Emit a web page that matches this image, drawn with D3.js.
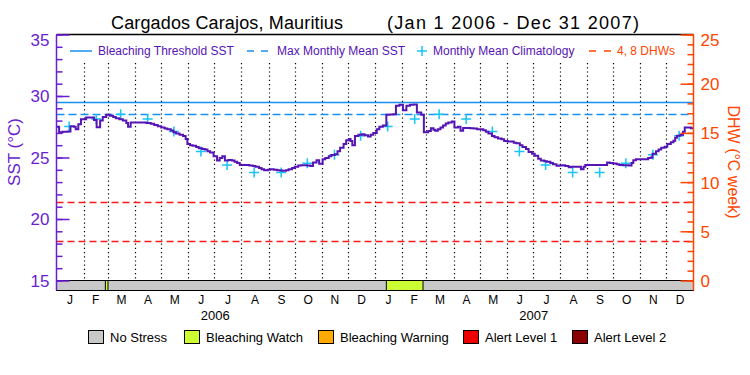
<!DOCTYPE html>
<html>
<head>
<meta charset="utf-8">
<script src="https://cdn.jsdelivr.net/npm/d3@7"></script>
<style>
  body { margin: 0; background: #fff; }
  svg { display: block; font-family: "Liberation Sans", Arial, sans-serif; }
</style>
</head>
<body>
<svg id="chart" width="750" height="375"></svg>
<script>
// ---- data ----
const titleSite = 'Cargados Carajos, Mauritius';
const titlePeriod = '(Jan 1 2006 - Dec 31 2007)';
const monthLetters = ['J','F','M','A','M','J','J','A','S','O','N','D'];
const years = [2006, 2007];
const sstMajorTicks = [15, 20, 25, 30, 35];
const dhwMajorTicks = [0, 5, 10, 15, 20, 25];
const maxMonthlyMean = 28.5;
const bleachingThreshold = 29.5;
const dhwLevels = [4, 8];

// monthly mean climatology, Jan..Dec
const climatology = [27.52, 28.12, 28.52, 28.12, 27.11, 25.49, 24.4, 23.78, 23.78, 24.54, 25.22, 26.76];

// SST, days since 2006-01-01
const sstDays = [
  0, 3, 7, 13, 16, 20, 22, 25, 28, 34, 40, 43, 46, 50, 53, 57, 61, 65, 68, 72,
  76, 80, 82, 85, 90, 95, 100, 103, 108, 112, 116, 120, 124, 127, 131, 134, 137, 141, 145, 148,
  150, 153, 156, 160, 163, 167, 170, 173, 176, 180, 184, 187, 190, 193, 197, 201, 204, 207, 210, 214,
  218, 221, 225, 228, 232, 235, 238, 242, 245, 249, 253, 256, 259, 263, 266, 270, 273, 277, 280, 284,
  287, 291, 294, 298, 301, 305, 308, 312, 315, 319, 322, 325, 329, 332, 335, 337, 339, 342, 346, 350,
  353, 357, 360, 363, 367, 370, 374, 378, 382, 386, 389, 393, 397, 401, 405, 409, 413, 418, 421, 424,
  426, 429, 432, 434, 437, 440, 443, 446, 449, 453, 456, 460, 463, 466, 470, 474, 478, 482, 485, 489,
  492, 495, 499, 502, 506, 510, 513, 517, 520, 524, 527, 531, 534, 538, 541, 545, 548, 552, 555, 559,
  562, 566, 569, 573, 576, 580, 583, 587, 590, 594, 597, 601, 604, 606, 612, 616, 620, 624, 628, 631,
  634, 638, 642, 645, 649, 652, 656, 659, 661, 664, 668, 672, 675, 678, 681, 683, 687, 690, 693, 697,
  700, 704, 707, 709, 711, 715, 718, 720, 724, 727, 730
];
const sstValues = [
  27.5, 27.05, 27.1, 27.12, 27.55, 27.5, 27.3, 27.7, 28.1, 28.25, 28.25, 28.05, 27.45, 28.0, 28.3, 28.47, 28.4, 28.3, 28.2, 28.1,
  28.0, 27.8, 27.5, 27.85, 27.85, 27.85, 27.85, 27.8, 27.75, 27.65, 27.55, 27.44, 27.35, 27.3, 27.2, 27.05, 26.95, 26.85, 26.75, 26.5,
  26.1, 26.0, 25.95, 25.85, 25.75, 25.7, 25.65, 25.5, 25.4, 25.1, 24.75, 24.95, 25.1, 24.75, 24.8, 24.75, 24.65, 24.55, 24.4, 24.4,
  24.4, 24.35, 24.3, 24.25, 24.15, 24.05, 23.97, 24.0, 24.05, 24.0, 23.97, 23.95, 23.92, 23.97, 24.05, 24.15, 24.25, 24.35, 24.38, 24.38,
  24.35, 24.3, 24.6, 24.78, 24.5, 24.85, 24.95, 25.1, 25.2, 25.27, 25.5, 25.8, 26.1, 26.4, 26.5, 26.35, 26.0, 26.75, 26.85, 26.9,
  26.8, 26.7, 26.85, 27.0, 27.3, 27.5, 27.6, 28.47, 28.5, 28.52, 29.2, 29.28, 28.85, 29.2, 29.28, 29.3, 28.66, 28.47, 27.05, 27.05,
  27.15, 27.38, 27.25, 27.17, 27.3, 27.44, 27.6, 27.76, 27.85, 27.93, 27.44, 27.5, 27.17, 27.4, 27.4, 27.38, 27.35, 27.3, 27.3, 27.22,
  27.1, 26.95, 26.75, 26.65, 26.55, 26.49, 26.35, 26.3, 26.3, 26.2, 26.15, 26.0, 25.85, 25.7, 25.45, 25.3, 25.14, 24.9, 24.75, 24.7,
  24.65, 24.55, 24.45, 24.32, 24.35, 24.38, 24.3, 24.2, 24.24, 24.24, 24.24, 24.05, 24.25, 24.4, 24.4, 24.4, 24.4, 24.4, 24.4, 24.6,
  24.55, 24.51, 24.45, 24.4, 24.38, 24.38, 24.35, 24.55, 24.78, 24.85, 24.86, 24.86, 24.86, 24.95, 25.0, 25.3, 25.5, 25.65, 25.8, 25.87,
  26.1, 26.25, 26.36, 26.6, 26.76, 26.85, 27.1, 27.44, 27.44, 27.38, 27.38
];

// bleaching stress periods (anything not listed is level 0)
const stressStart = ['2006-02-26', '2007-01-14'];
const stressEnd = ['2006-03-01', '2007-02-25'];
const stressLevel = [1, 1];
const stressNames = ['No Stress', 'Bleaching Watch', 'Bleaching Warning', 'Alert Level 1', 'Alert Level 2'];
const stressColors = ['#c8c8c8', '#ccff33', '#ffaa00', '#ee0000', '#8b0000'];

// ---- layout ----
const purple = '#6a1ecf';
const lineColor = '#5514b4';
const orange = '#ff4500';
const blue = '#1890f0';
const cyan = '#18c3f5';
const dhwRed = '#ff1a1a';

const plotLeft = 56.5, plotRight = 693.5, plotTop = 34.5, plotBottom = 280.5, barBottom = 290.5;

const svg = d3.select('#chart');
const parse = d3.timeParse('%Y-%m-%d');
const start = new Date(2006, 0, 1), end = new Date(2008, 0, 1);
const dayToDate = d => d3.timeDay.offset(start, d);

const x = d3.scaleTime().domain([start, end]).range([plotLeft, plotRight]);
const ySst = d3.scaleLinear().domain([15, 35]).range([plotBottom, plotTop]);
const yDhw = d3.scaleLinear().domain([0, 25]).range([plotBottom, plotTop]);

// title
svg.append('text').attr('x', 111).attr('y', 29).attr('font-size', 18)
  .attr('textLength', 232).attr('lengthAdjust', 'spacing').text(titleSite);
svg.append('text').attr('x', 387).attr('y', 29).attr('font-size', 18)
  .attr('textLength', 252).attr('lengthAdjust', 'spacing').text(titlePeriod);

// month dotted lines
const monthStarts = d3.timeMonth.range(d3.timeMonth.offset(start, 1), end);
svg.append('g').selectAll('line').data(monthStarts).enter().append('line')
  .attr('x1', d => Math.round(x(d)) + 0.5).attr('x2', d => Math.round(x(d)) + 0.5)
  .attr('y1', 63).attr('y2', plotBottom)
  .attr('stroke', '#000').attr('stroke-width', 1.2).attr('stroke-dasharray', '1.2,3');

// thresholds
svg.append('line').attr('x1', plotLeft).attr('x2', plotRight)
  .attr('y1', Math.round(ySst(bleachingThreshold)) + 0.5).attr('y2', Math.round(ySst(bleachingThreshold)) + 0.5)
  .attr('stroke', blue).attr('stroke-width', 1.5);
svg.append('line').attr('x1', plotLeft).attr('x2', plotRight)
  .attr('y1', Math.round(ySst(maxMonthlyMean)) + 0.5).attr('y2', Math.round(ySst(maxMonthlyMean)) + 0.5)
  .attr('stroke', blue).attr('stroke-width', 1.5).attr('stroke-dasharray', '8,4');
svg.append('g').selectAll('line').data(dhwLevels).enter().append('line')
  .attr('x1', plotLeft).attr('x2', plotRight)
  .attr('y1', d => Math.round(yDhw(d)) + 0.5).attr('y2', d => Math.round(yDhw(d)) + 0.5)
  .attr('stroke', dhwRed).attr('stroke-width', 1.5).attr('stroke-dasharray', '7,4');

// climatology crosses, same 12 values each year
const climPoints = [];
years.forEach(yr => climatology.forEach((v, m) => climPoints.push({ date: new Date(yr, m, 15, 12), v })));
svg.append('g').selectAll('path').data(climPoints).enter().append('path')
  .attr('d', d => { const px = x(d.date), py = ySst(d.v);
    return `M${px - 5},${py}H${px + 5}M${px},${py - 5}V${py + 5}`; })
  .attr('stroke', cyan).attr('stroke-width', 1.5).attr('fill', 'none');

// SST line
const sst = sstDays.map((d, i) => ({ date: dayToDate(d), v: sstValues[i] }));
svg.append('path').datum(sst)
  .attr('d', d3.line().x(d => x(d.date)).y(d => ySst(d.v)).curve(d3.curveStepAfter))
  .attr('fill', 'none').attr('stroke', lineColor).attr('stroke-width', 2);

// stress bar
svg.append('rect').attr('x', plotLeft).attr('y', plotBottom).attr('width', plotRight - plotLeft)
  .attr('height', barBottom - plotBottom).attr('fill', stressColors[0])
  .attr('stroke', '#000').attr('stroke-width', 1);
svg.append('g').selectAll('rect').data(stressStart).enter().append('rect')
  .attr('x', (d, i) => x(parse(d)))
  .attr('y', plotBottom)
  .attr('width', (d, i) => x(parse(stressEnd[i])) - x(parse(d)))
  .attr('height', barBottom - plotBottom)
  .attr('fill', (d, i) => stressColors[stressLevel[i]])
  .attr('stroke', '#000').attr('stroke-width', 1);

// frame: top black, left purple, right orange
svg.append('line').attr('x1', plotLeft).attr('x2', plotRight).attr('y1', plotTop).attr('y2', plotTop)
  .attr('stroke', '#000').attr('stroke-width', 1.5);
svg.append('line').attr('x1', plotLeft).attr('x2', plotLeft).attr('y1', plotTop).attr('y2', barBottom)
  .attr('stroke', purple).attr('stroke-width', 1.5);
svg.append('line').attr('x1', plotRight).attr('x2', plotRight).attr('y1', plotTop).attr('y2', barBottom)
  .attr('stroke', orange).attr('stroke-width', 1.5);

// left axis (ticks inward)
const leftMinor = svg.append('g').attr('transform', `translate(${plotLeft},0)`)
  .call(d3.axisLeft(ySst).tickValues(d3.range(15, 36)).tickSizeInner(-6).tickSizeOuter(0).tickFormat(''));
const leftMajor = svg.append('g').attr('transform', `translate(${plotLeft},0)`)
  .call(d3.axisLeft(ySst).tickValues(sstMajorTicks).tickSizeInner(-13).tickSizeOuter(0).tickPadding(7));
[leftMinor, leftMajor].forEach(g => {
  g.select('.domain').remove();
  g.selectAll('line').attr('stroke', purple).attr('stroke-width', 1.5);
});
leftMajor.selectAll('text').attr('fill', purple).attr('font-size', 17)
  .attr('dy', d => d === 35 ? '0.65em' : '0.35em');
leftMajor.attr('font-family', null);

// right axis (ticks inward)
const rightMinor = svg.append('g').attr('transform', `translate(${plotRight},0)`)
  .call(d3.axisRight(yDhw).tickValues(d3.range(0, 26)).tickSizeInner(-6).tickSizeOuter(0).tickFormat(''));
const rightMajor = svg.append('g').attr('transform', `translate(${plotRight},0)`)
  .call(d3.axisRight(yDhw).tickValues(dhwMajorTicks).tickSizeInner(-13).tickSizeOuter(0).tickPadding(7));
[rightMinor, rightMajor].forEach(g => {
  g.select('.domain').remove();
  g.selectAll('line').attr('stroke', orange).attr('stroke-width', 1.5);
});
rightMajor.selectAll('text').attr('fill', orange).attr('font-size', 17)
  .attr('dy', d => d === 25 ? '0.65em' : '0.35em');
rightMajor.attr('font-family', null);

// axis titles
svg.append('text').attr('transform', 'translate(20,152) rotate(-90)')
  .attr('text-anchor', 'middle').attr('font-size', 17).attr('fill', purple).text('SST (°C)');
svg.append('text').attr('transform', 'translate(728,162) rotate(90)')
  .attr('text-anchor', 'middle').attr('font-size', 16).attr('fill', orange).text('DHW (°C week)');

// month and year labels
const monthMids = d3.timeMonth.range(start, end).map(d => new Date((+d + +d3.timeMonth.offset(d, 1)) / 2));
svg.append('g').selectAll('text').data(monthMids).enter().append('text')
  .attr('x', d => x(d)).attr('y', 304).attr('text-anchor', 'middle').attr('font-size', 12)
  .text(d => monthLetters[d.getMonth()]);
svg.append('g').selectAll('text').data(years).enter().append('text')
  .attr('x', d => x(new Date(d, 6, 2))).attr('y', 320).attr('text-anchor', 'middle').attr('font-size', 13)
  .text(d => d);

// top legend
const ly = 51;
svg.append('line').attr('x1', 70).attr('x2', 92).attr('y1', ly).attr('y2', ly)
  .attr('stroke', blue).attr('stroke-width', 1.5);
svg.append('text').attr('x', 98).attr('y', ly).attr('dy', '0.35em').attr('font-size', 12)
  .attr('fill', lineColor).text('Bleaching Threshold SST');
svg.append('line').attr('x1', 247).attr('x2', 271).attr('y1', ly).attr('y2', ly)
  .attr('stroke', blue).attr('stroke-width', 1.5).attr('stroke-dasharray', '7,7');
svg.append('text').attr('x', 277).attr('y', ly).attr('dy', '0.35em').attr('font-size', 12)
  .attr('fill', lineColor).text('Max Monthly Mean SST');
svg.append('path').attr('d', `M417,${ly}H427M422,${ly - 5}V${ly + 5}`)
  .attr('stroke', cyan).attr('stroke-width', 1.5);
svg.append('text').attr('x', 433).attr('y', ly).attr('dy', '0.35em').attr('font-size', 12)
  .attr('fill', lineColor).text('Monthly Mean Climatology');
svg.append('line').attr('x1', 589).attr('x2', 611).attr('y1', ly).attr('y2', ly)
  .attr('stroke', orange).attr('stroke-width', 1.5).attr('stroke-dasharray', '7,8');
svg.append('text').attr('x', 617).attr('y', ly).attr('dy', '0.35em').attr('font-size', 12)
  .attr('fill', orange).text('4, 8 DHWs');

// bottom legend
const legendX = [88, 184, 318, 463, 572];
const leg = svg.append('g').selectAll('g').data(stressNames).enter().append('g')
  .attr('transform', (d, i) => `translate(${legendX[i]},330)`);
leg.append('rect').attr('x', 0.5).attr('y', 0.5).attr('width', 15).attr('height', 13)
  .attr('fill', (d, i) => stressColors[i]).attr('stroke', '#000').attr('stroke-width', 1);
leg.append('text').attr('x', 22).attr('y', 7).attr('dy', '0.35em').attr('font-size', 13).text(d => d);
</script>
</body>
</html>
